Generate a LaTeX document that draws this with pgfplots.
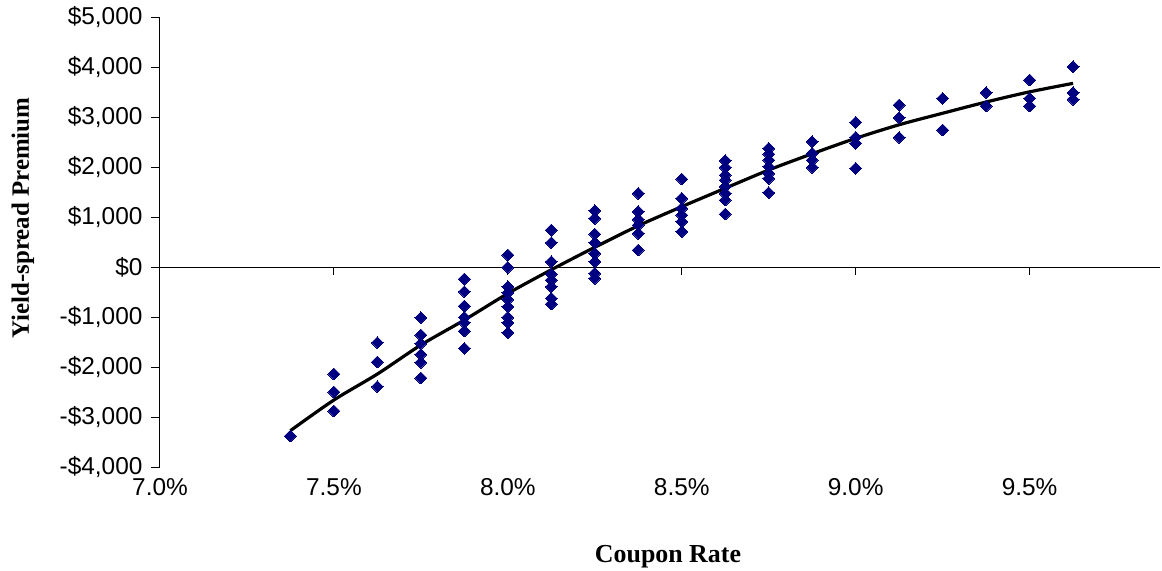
\documentclass[border=0pt]{standalone}
\usepackage{fontspec}
\setmainfont{Liberation Sans}
\newfontfamily\titlefont{Liberation Serif}
\usepackage{pgfplots}
\pgfplotsset{compat=1.18}
\definecolor{navy}{RGB}{0,0,128}

% coupon rate (%) vs yield-spread premium ($)
\pgfplotstableread{
x y
7.375 -3380
7.5 -2140
7.5 -2500
7.5 -2880
7.625 -1513
7.625 -1900
7.625 -2393
7.75 -1013
7.75 -1360
7.75 -1527
7.75 -1747
7.75 -1907
7.75 -2220
7.875 -240
7.875 -493
7.875 -780
7.875 -1007
7.875 -1113
7.875 -1280
7.875 -1627
8.0 240
8.0 -7
8.0 -393
8.0 -513
8.0 -647
8.0 -793
8.0 -1007
8.0 -1113
8.0 -1313
8.125 740
8.125 487
8.125 107
8.125 -140
8.125 -260
8.125 -393
8.125 -627
8.125 -740
8.25 1127
8.25 973
8.25 660
8.25 487
8.25 273
8.25 107
8.25 -127
8.25 -227
8.375 1473
8.375 1107
8.375 953
8.375 840
8.375 673
8.375 340
8.5 1760
8.5 1373
8.5 1173
8.5 1040
8.5 907
8.5 707
8.625 2127
8.625 1993
8.625 1840
8.625 1740
8.625 1607
8.625 1473
8.625 1340
8.625 1060
8.75 2373
8.75 2260
8.75 2140
8.75 2007
8.75 1873
8.75 1773
8.75 1487
8.875 2507
8.875 2273
8.875 2140
8.875 1993
9.0 2893
9.0 2593
9.0 2473
9.0 1973
9.125 3240
9.125 2987
9.125 2593
9.25 3373
9.25 2740
9.375 3487
9.375 3220
9.5 3740
9.5 3373
9.5 3220
9.625 4007
9.625 3487
9.625 3353
}\premium

% fitted trend
\pgfplotstableread{
x y
7.375 -3273
7.5 -2660
7.625 -2140
7.75 -1560
7.875 -1060
8.0 -530
8.125 -55
8.25 395
8.375 825
8.5 1207
8.625 1575
8.75 1940
8.875 2265
9.0 2573
9.125 2845
9.25 3075
9.375 3300
9.5 3503
9.625 3673
}\trend

\begin{document}
\begin{tikzpicture}
\useasboundingbox (-160bp,-104bp) rectangle (1002bp,467bp);
\begin{axis}[
  at={(0,0)}, anchor=south west,
  scale only axis, width=1000bp, height=450bp,
  xmin=7, xmax=9.875, ymin=-4000, ymax=5000,
  axis y line*=left, axis x line*=bottom,
  x axis line style={draw=none},
  y axis line style={black, line width=1bp},
  xtick={7,7.5,8,8.5,9,9.5},
  xticklabels={7.0\%,7.5\%,8.0\%,8.5\%,9.0\%,9.5\%},
  xtick style={draw=none},
  ytick={-4000,-3000,...,5000},
  yticklabels={{-\$4,000},{-\$3,000},{-\$2,000},{-\$1,000},{\$0},{\$1,000},{\$2,000},{\$3,000},{\$4,000},{\$5,000}},
  ytick style={black, line width=1bp},
  tick align=outside, major tick length=9bp,
  tick label style={font=\fontsize{24.5}{28}\selectfont},
  xticklabel style={yshift=1bp},
  yticklabel style={xshift=-5bp},
]
\draw[black, line width=1bp] (axis cs:7,0) -- (axis cs:9.875,0);
\pgfplotsinvokeforeach{7.5,8,8.5,9,9.5}{
  \draw[black, line width=1bp] (axis cs:#1,0) -- ++(0pt,-8bp);
}
\addplot[only marks, mark=square*, mark size=4.2bp,
  mark options={rotate=45, fill=navy, draw=navy, line width=0pt}]
  table[x=x, y=y] {\premium};
\addplot[black, line width=3.2bp, smooth, no markers]
  table[x=x, y=y] {\trend};
\end{axis}
\node[rotate=90, font=\titlefont\bfseries\fontsize{25}{30}\selectfont]
  at (-137bp,249bp) {Yield-spread Premium};
\node[anchor=base, font=\titlefont\bfseries\fontsize{26}{30}\selectfont]
  at (508bp,-95bp) {Coupon Rate};
\end{tikzpicture}
\end{document}
